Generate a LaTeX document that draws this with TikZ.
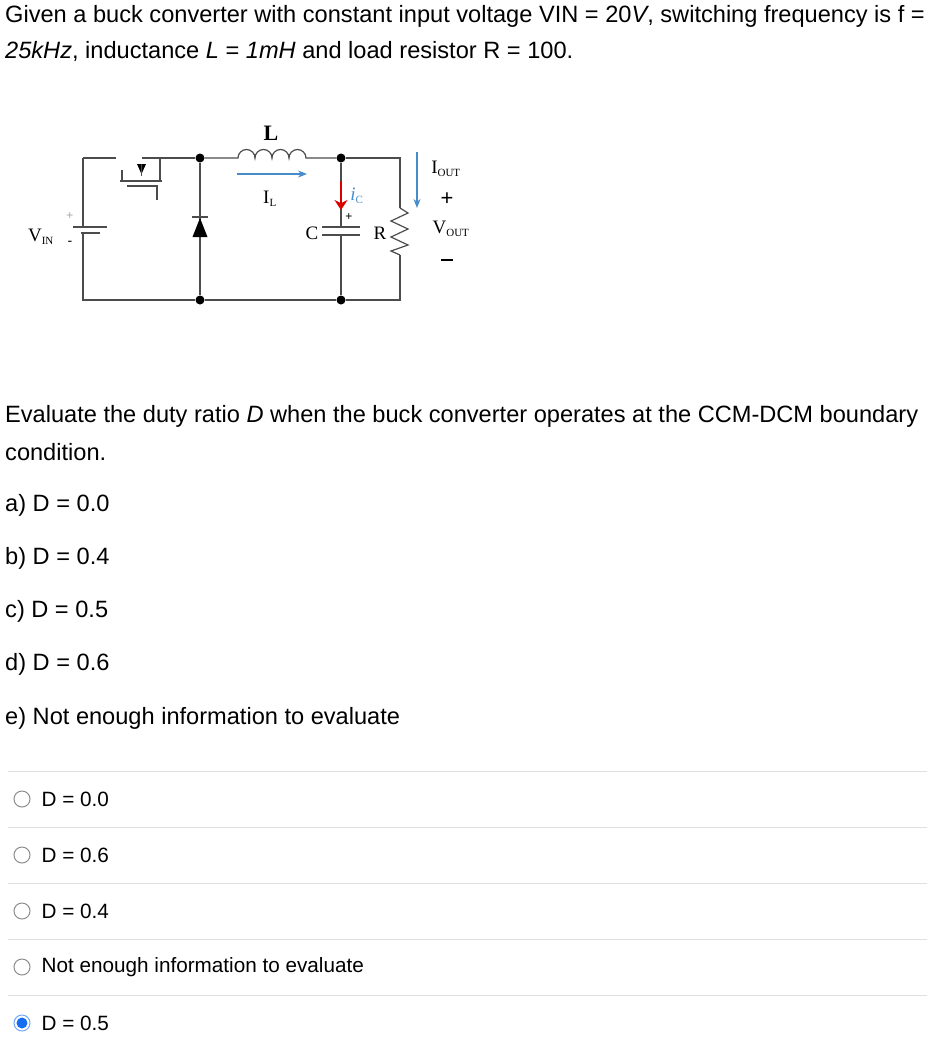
\documentclass[tikz,border=0pt]{standalone}
\usepackage{fontspec}
\setmainfont{Liberation Sans}
\newfontfamily\circfont{Liberation Serif}
\usetikzlibrary{arrows.meta,positioning}
\definecolor{flowblue}{RGB}{70,140,205}
\definecolor{radioblue}{RGB}{20,110,240}
\newcommand{\subsz}{\fontsize{11}{12}\selectfont}
\tikzset{
    % text styles
    para/.style={anchor=west, inner sep=0pt, font=\fontsize{23.6}{27}\selectfont},
    opt/.style={anchor=west, inner sep=0pt, font=\fontsize{20.7}{24}\selectfont},
    clab/.style={inner sep=0pt, font=\circfont\fontsize{19}{21}\selectfont},
    % circuit styles
    wire/.style={draw=black!70, line width=1.2pt},
    dot/.style={circle, fill=black, inner sep=0pt, minimum size=9pt},
    % answer list
    sep/.style={draw=black!12, line width=1pt},
    radio/.style={circle, draw=black!45, line width=1pt, minimum size=16pt, inner sep=0pt},
}
\begin{document}
\begin{tikzpicture}[x=1pt, y=-1pt]
    \useasboundingbox (0,0) rectangle (932,1061);

    % question text
    \node [para] (t1) at (5,16) {Given a buck converter with constant input voltage VIN = 20\textit{V}, switching frequency is f =};
    \node [para] (t2) at (5,51) {\textit{25kHz}, inductance \textit{L} = \textit{1mH} and load resistor R = 100.};
    \node [para] (q1) at (5,416) {Evaluate the duty ratio \textit{D} when the buck converter operates at the CCM-DCM boundary};
    \node [para] (q2) at (5,452) {condition.};
    \foreach \lab/\txt/\y in {a/{a) D = 0.0}/505, b/{b) D = 0.4}/558, c/{c) D = 0.5}/611,
                               d/{d) D = 0.6}/664, e/{e) Not enough information to evaluate}/718}
        \node [para] (opt\lab) at (5,\y) {\txt};

    % circuit nodes
    \node [dot] (dtl) at (200,158) {};
    \node [dot] (dtr) at (341,158) {};
    \node [dot] (dbl) at (200,300) {};
    \node [dot] (dbr) at (341,300) {};
    \coordinate (ctl) at (83,158);
    \coordinate (cbl) at (83,300);
    \coordinate (ctr) at (400,158);
    \coordinate (cbr) at (400,300);

    % outer loop
    \draw [wire] (ctl) -- (83,227);
    \draw [wire] (83,233) -- (cbl) -- (dbl) -- (dbr) -- (cbr) -- (400,255);
    \draw [wire] (400,208) -- (ctr) -- (dtr);
    % battery
    \draw [wire] (73,227) -- (107,227);
    \draw [wire] (81,233) -- (100,233);
    \node [clab, text=black!35, font=\fontsize{12}{12}\selectfont] (vp) at (70,216) {+};
    \node [clab, font=\fontsize{14}{14}\selectfont] (vm) at (70,243) {-};
    \node [clab] (vin) at (41,237) {V\textsubscript{\subsz IN}};
    % switch
    \draw [wire] (ctl) -- (116,158);
    \draw [wire] (122,170) -- (122,181);
    \draw [wire] (120,181) -- (162,181);
    \draw [wire] (142,158) -- (168,158);
    \draw [wire] (160,158) -- (160,181);
    \draw [wire] (127,186) -- (157,186) -- (157,200);
    \draw [wire] (168,158) -- (dtl);
    \fill [black] (137,164) -- (146,164) -- (141.5,174) -- cycle;
    \draw [wire] (141.5,164) -- (141.5,176);
    % diode
    \draw [wire] (dtl) -- (dbl);
    \fill [black] (192.5,237) -- (207.5,237) -- (200,218) -- cycle;
    \draw [wire] (192,217) -- (208,217);
    % inductor
    \draw [wire] (dtl) -- (238,158)
        arc (180:360:8.5) arc (180:360:8.5) arc (180:360:8.5) arc (180:360:8.5) -- (dtr);
    \node [clab, font=\circfont\bfseries\fontsize{22}{24}\selectfont] (lL) at (271,133) {L};
    \draw [-{Stealth[length=9pt,width=7pt]}, flowblue, line width=1.3pt] (237,174) -- (307,174);
    \node [clab] (lIL) at (270,199) {I\textsubscript{\subsz L}};
    % capacitor
    \draw [wire] (dtr) -- (341,227);
    \draw [wire] (341,235) -- (dbr);
    \draw [wire] (322,227) -- (360,227);
    \draw [wire] (322,235) -- (360,235);
    \node [clab, font=\fontsize{12}{12}\selectfont] (cp) at (349,217) {+};
    \node [clab] (lC) at (312,233) {C};
    \draw [-{Stealth[length=10pt,width=13pt]}, red!85!black, line width=2pt] (341,181) -- (341,210);
    \node [clab, text=flowblue] (lic) at (357,196) {\textit{i}\textsubscript{\subsz C}};
    % resistor
    \draw [wire] (400,208) -- (408,213) -- (391,221) -- (408,229) -- (391,237) -- (408,245) -- (391,251) -- (400,255);
    \node [clab] (lR) at (380,233) {R};
    % output
    \draw [-{Stealth[length=9pt,width=7pt]}, flowblue, line width=1.3pt] (417,152) -- (417,208);
    \node [clab] (lIout) at (446,169) {I\textsubscript{\subsz OUT}};
    \node [clab, font=\fontsize{22}{22}\selectfont] (lplus) at (447,199) {+};
    \node [clab] (lVout) at (451,229) {V\textsubscript{\subsz OUT}};
    \draw [black, line width=1.6pt] (441,260) -- (453,260);

    % answer list
    \foreach \y in {771,827,883,939,995}
        \draw [sep] (8,\y) -- (927,\y);
    \foreach \n/\txt/\y in {1/{D = 0.0}/799, 2/{D = 0.6}/855, 3/{D = 0.4}/911,
                             4/{Not enough information to evaluate}/967}{
        \node [radio] (r\n) at (22,\y) {};
        \node [opt, right=11pt of r\n] (a\n) {\txt};
    }
    \node [radio, draw=radioblue!60, fill=white] (r5) at (22,1023) {};
    \fill [radioblue] (r5.center) circle (5.5pt);
    \node [opt, right=11pt of r5] (a5) {D = 0.5};
\end{tikzpicture}
\end{document}
